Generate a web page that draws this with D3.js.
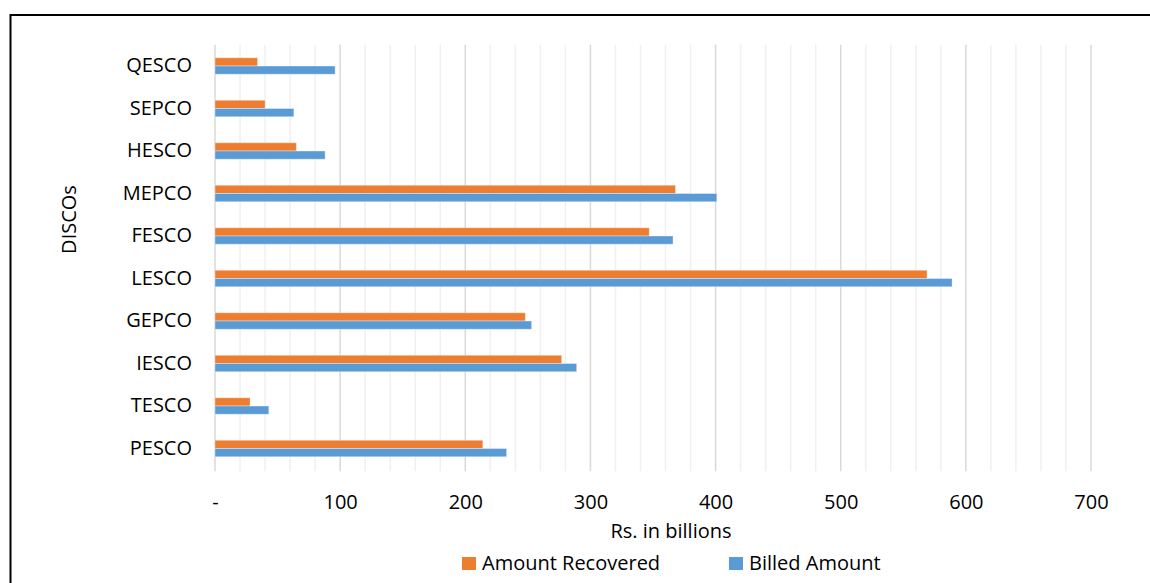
<!DOCTYPE html>
<html>
<head>
<meta charset="utf-8">
<script src="https://cdn.jsdelivr.net/npm/d3@7"></script>
<style>
  body { margin: 0; background: #fff; }
  text { font-family: "Open Sans", sans-serif; fill: #000; }
</style>
</head>
<body>
<svg id="chart" width="1150" height="583"></svg>
<script>
// DISCO billing vs recovery, Rs. in billions
const categories = ["PESCO", "TESCO", "IESCO", "GEPCO", "LESCO", "FESCO", "MEPCO", "HESCO", "SEPCO", "QESCO"];
const amountRecovered = [214, 28, 277, 248, 569, 347, 368, 65, 40, 34];
const billedAmount = [233, 43, 289, 253, 589, 366, 401, 88, 63, 96];
const seriesNames = ["Amount Recovered", "Billed Amount"];
const seriesColors = ["#ED7D31", "#5B9BD5"];
const xTicks = [0, 100, 200, 300, 400, 500, 600, 700];

const svg = d3.select("#chart");
const font = "\"Open Sans\", sans-serif";

// outer frame, runs off the right and bottom edge like the original
svg.append("rect")
  .attr("x", 10.5).attr("y", 15)
  .attr("width", 1300).attr("height", 700)
  .attr("fill", "none").attr("stroke", "#000").attr("stroke-width", 2);

const plot = { left: 215, right: 1091, top: 44.75, bottom: 469.75 };

const x = d3.scaleLinear().domain([0, 700]).range([plot.left, plot.right]);

// QESCO on top, PESCO at the bottom
const y = d3.scaleBand()
  .domain(categories.slice().reverse())
  .range([plot.top, plot.bottom])
  .paddingInner(0.612)
  .paddingOuter(0.306);

const ySub = d3.scaleBand().domain(seriesNames).range([0, y.bandwidth()]);

// minor and major gridlines
svg.append("g")
  .selectAll("line")
  .data(d3.range(0, 701, 20))
  .join("line")
  .attr("x1", d => x(d)).attr("x2", d => x(d))
  .attr("y1", plot.top).attr("y2", plot.bottom + 1.5)
  .attr("stroke", d => d % 100 === 0 ? "#d9d9d9" : "#f0f0f0")
  .attr("stroke-width", 1.5);

// bars
const rows = categories.map((c, i) => ({ cat: c, values: [amountRecovered[i], billedAmount[i]] }));

svg.append("g")
  .selectAll("g")
  .data(rows)
  .join("g")
  .attr("transform", d => `translate(0,${y(d.cat)})`)
  .selectAll("rect")
  .data(d => d.values.map((v, j) => ({ key: seriesNames[j], value: v, color: seriesColors[j] })))
  .join("rect")
  .attr("x", x(0))
  .attr("y", d => ySub(d.key))
  .attr("width", d => x(d.value) - x(0))
  .attr("height", ySub.bandwidth())
  .attr("fill", d => d.color)
  .attr("stroke", "#fff")
  .attr("stroke-opacity", 0.35)
  .attr("stroke-width", 1);

// x axis labels
const xAxis = svg.append("g")
  .attr("transform", `translate(0,${plot.bottom})`)
  .call(d3.axisBottom(x).tickValues(xTicks).tickSize(0).tickPadding(25)
    .tickFormat(d => d === 0 ? "-" : d));
xAxis.select(".domain").remove();
xAxis.selectAll("text").style("font-size", "20px").style("font-family", font).attr("fill", "#000");

// category labels
const yAxis = svg.append("g")
  .attr("transform", `translate(${plot.left},0)`)
  .call(d3.axisLeft(y).tickSize(0).tickPadding(23));
yAxis.select(".domain").remove();
yAxis.selectAll("text").style("font-size", "20px").style("font-family", font).attr("fill", "#000");

// axis titles
svg.append("text")
  .attr("x", 671).attr("y", 538)
  .attr("text-anchor", "middle")
  .style("font-size", "20px")
  .text("Rs. in billions");

svg.append("text")
  .attr("transform", "translate(76,219.5) rotate(-90)")
  .attr("text-anchor", "middle")
  .style("font-size", "20px")
  .text("DISCOs");

// legend
const legendX = [462, 729];
const legend = svg.append("g")
  .selectAll("g")
  .data(seriesNames)
  .join("g")
  .attr("transform", (d, i) => `translate(${legendX[i]},557)`);
legend.append("rect")
  .attr("width", 14).attr("height", 13)
  .attr("fill", (d, i) => seriesColors[i]);
legend.append("text")
  .attr("x", 20).attr("y", 13)
  .style("font-size", "20px")
  .text(d => d);
</script>
</body>
</html>
